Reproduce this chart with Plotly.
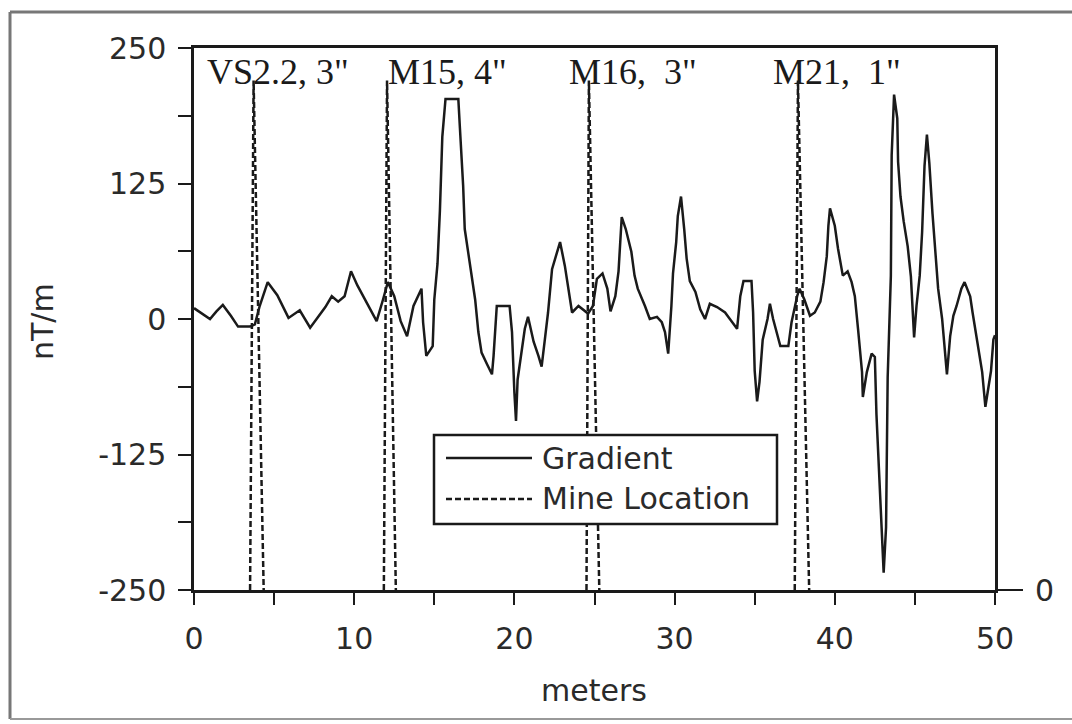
import plotly.graph_objects as go

# ---- data ----
grad_x = [0.0, 0.5, 1.0, 1.4, 1.8, 2.3, 2.75, 3.5, 3.8, 4.1, 4.6, 5.2, 5.9, 6.6, 7.25, 7.8,
          8.2, 8.6, 9.0, 9.4, 9.8, 10.2, 10.9, 11.4, 11.8, 12.1, 12.5, 12.9, 13.3, 13.7, 14.2,
          14.3, 14.5, 14.9, 15.0, 15.2, 15.35, 15.5, 15.7, 16.5, 16.6, 16.8, 16.9, 17.1, 17.35,
          17.55, 17.75, 17.95, 18.3, 18.6, 18.7, 18.9, 19.7, 19.85, 20.0, 20.1, 20.2, 20.45,
          20.65, 20.85, 21.2, 21.5, 21.7, 21.9, 22.1, 22.35, 22.65, 22.85, 23.15, 23.35, 23.6,
          24.0, 24.4, 24.6, 24.9, 25.15, 25.5, 25.8, 26.0, 26.3, 26.5, 26.6, 26.7, 26.95, 27.1,
          27.3, 27.5, 27.7, 28.15, 28.45, 28.9, 29.2, 29.4, 29.6, 29.8, 29.9, 30.1, 30.2, 30.4,
          30.5, 30.6, 30.75, 30.95, 31.3, 31.6, 31.9, 32.2, 32.65, 33.15, 33.45, 33.9, 34.1,
          34.3, 34.8, 34.9, 35.0, 35.15, 35.3, 35.5, 35.8, 35.95, 36.15, 36.6, 37.1, 37.3,
          37.65, 37.8, 38.1, 38.45, 38.75, 39.1, 39.3, 39.5, 39.6, 39.7, 40.0, 40.2, 40.5,
          40.8, 41.05, 41.25, 41.45, 41.7, 41.75, 42.0, 42.3, 42.5, 42.6, 42.8, 42.9, 43.05,
          43.2, 43.25, 43.3, 43.5, 43.55, 43.7, 43.9, 43.95, 44.1, 44.3, 44.55, 44.75, 44.95,
          45.1, 45.3, 45.45, 45.6, 45.75, 45.9, 46.1, 46.3, 46.45, 46.7, 47.0, 47.2, 47.4,
          47.6, 47.9, 48.1, 48.45, 48.6, 48.9, 49.2, 49.4, 49.55, 49.75, 49.9, 50.0]
grad_y = [10, 5, 0, 7, 13, 3, -7, -7, -5, 12, 34, 22, 1, 8, -8, 3,
          11, 21, 16, 21, 44, 31, 12, -2, 18, 34, 21, -2, -16, 12, 28,
          -3, -34, -25, 18, 51, 100, 168, 203, 203, 176, 123, 83, 62, 37,
          18, -12, -31, -42, -51, -34, 12, 12, -12, -68, -94, -56, -28,
          -9, 2, -21, -34, -44, -19, 6, 46, 60, 71, 49, 31, 6,
          12, 7, 5, 12, 37, 42, 28, 7, 21, 44, 76, 94, 83, 74,
          62, 40, 28, 12, 0, 2, -3, -12, -32, 12, 42, 71, 95, 113,
          94, 83, 56, 35, 25, 9, 0, 14, 11, 6, 0, -9, 21,
          35, 35, 6, -48, -76, -58, -19, 0, 14, 0, -25, -25, -3,
          21, 28, 18, 3, 6, 16, 34, 58, 86, 102, 86, 65, 40,
          44, 34, 21, -9, -49, -72, -49, -32, -35, -88, -151, -185, -234,
          -192, -127, -54, 40, 151, 207, 185, 145, 113, 90, 67, 39, -17,
          12, 40, 80, 141, 170, 144, 97, 59, 28, 0, -51, -16, 3,
          12, 28, 34, 21, 6, -21, -49, -81, -65, -48, -19, -15]

mine_names = ['VS2.2, 3"', 'M15, 4"', 'M16,  3"', 'M21,  1"']
mine_label_x = [0.7, 12.0, 23.3, 36.0]
mine_left = [3.5, 11.85, 24.5, 37.5]
mine_peak = [3.72, 12.05, 24.65, 37.7]
mine_right = [4.35, 12.6, 25.3, 38.4]
mine_height = 470  # on the right-hand (mine location) axis, 0 at bottom

y_ticks = [-250, -125, 0, 125, 250]
y_tick_text = ["-250", "-125", "0", "125", "250"]
x_ticks = [0, 10, 20, 30, 40, 50]

mx, my = [], []
for l, p, r in zip(mine_left, mine_peak, mine_right):
    mx += [l, p, r, None]
    my += [0, mine_height, 0, None]

FONT = "DejaVu Sans"
INK = "#1a1a1a"
TXT = "#2a2a2a"

fig = go.Figure()
fig.add_trace(go.Scatter(x=grad_x, y=grad_y, mode="lines", name="Gradient",
                         line=dict(color=INK, width=2.5), showlegend=False))
fig.add_trace(go.Scatter(x=mx, y=my, mode="lines", name="Mine Location", yaxis="y2",
                         line=dict(color=INK, width=2.5, dash="6px,3px"), showlegend=False))

L, R, T, B = 194, 77, 48, 134
W, H = 1072, 724
pw, ph = W - L - R, H - T - B


def px(x):
    return (x - L) / pw


def py(y):
    return (H - B - y) / ph


annotations = []
for name, x in zip(mine_names, mine_label_x):
    annotations.append(dict(x=x, y=py(72), xref="x", yref="paper", text=name, showarrow=False,
                            xanchor="left", yanchor="middle",
                            font=dict(family="Liberation Serif", size=36, color=INK)))
annotations += [
    dict(x=px(42), y=py(322), xref="paper", yref="paper", text="nT/m", textangle=-90,
         xanchor="center", yanchor="middle",
         showarrow=False, font=dict(family=FONT, size=30, color=TXT)),
    dict(x=px(594), y=py(690), xref="paper", yref="paper", text="meters",
         xanchor="center", yanchor="middle",
         showarrow=False, font=dict(family=FONT, size=30, color=TXT)),
    dict(x=px(540), y=py(458), xref="paper", yref="paper", text="Gradient", xanchor="left",
         yanchor="middle", showarrow=False, font=dict(family=FONT, size=30, color=TXT)),
    dict(x=px(540), y=py(499), xref="paper", yref="paper", text="Mine Location", xanchor="left",
         yanchor="middle", showarrow=False, font=dict(family=FONT, size=30, color=TXT)),
]

shapes = [
    # legend box and samples
    dict(type="rect", xref="paper", yref="paper", x0=px(434), x1=px(777), y0=py(524), y1=py(435),
         line=dict(color=INK, width=2.5), fillcolor="white", layer="above"),
    dict(type="line", xref="paper", yref="paper", x0=px(446), x1=px(532), y0=py(458), y1=py(458),
         line=dict(color=INK, width=2.5)),
    dict(type="line", xref="paper", yref="paper", x0=px(446), x1=px(532), y0=py(499), y1=py(499),
         line=dict(color=INK, width=2.5, dash="6px,3px")),
    # scanned page border
    dict(type="line", xref="paper", yref="paper", x0=px(10), x1=px(1072), y0=py(12), y1=py(12),
         line=dict(color="#777", width=3)),
    dict(type="line", xref="paper", yref="paper", x0=px(10), x1=px(10), y0=py(12), y1=py(719),
         line=dict(color="#777", width=3)),
    dict(type="line", xref="paper", yref="paper", x0=px(10), x1=px(1072), y0=py(719), y1=py(719),
         line=dict(color="#999", width=2)),
]

fig.update_layout(
    width=W, height=H,
    margin=dict(l=L, r=R, t=T, b=B, pad=0),
    paper_bgcolor="white", plot_bgcolor="white",
    font=dict(family=FONT, size=30, color=TXT),
    xaxis=dict(range=[0, 50], tickvals=x_ticks, ticks="outside", ticklen=12, tickwidth=2,
               tickcolor=INK, showline=True, linecolor=INK, linewidth=2.5, mirror=True,
               showgrid=False, zeroline=False, ticklabelstandoff=8,
               minor=dict(dtick=5, ticks="outside", ticklen=12, tickwidth=2, tickcolor=INK),
               tickfont=dict(family=FONT, size=30, color=TXT)),
    yaxis=dict(range=[-250, 250], tickvals=y_ticks, ticktext=y_tick_text, ticks="outside",
               ticklen=13, tickwidth=2,
               tickcolor=INK, showline=True, linecolor=INK, linewidth=2.5, mirror=True,
               showgrid=False, zeroline=False, ticklabelstandoff=6,
               minor=dict(dtick=62.5, tick0=0, ticks="outside", ticklen=13, tickwidth=2,
                          tickcolor=INK),
               tickfont=dict(family=FONT, size=30, color=TXT)),
    yaxis2=dict(range=[0, 500], overlaying="y", side="right", tickvals=[0], ticks="outside",
                ticklen=27, tickwidth=2, tickcolor=INK, showgrid=False, zeroline=False,
                showline=False, ticklabelstandoff=6,
                tickfont=dict(family=FONT, size=30, color=TXT)),
    annotations=annotations,
    shapes=shapes,
    showlegend=False,
)

fig.write_html("out.html")
